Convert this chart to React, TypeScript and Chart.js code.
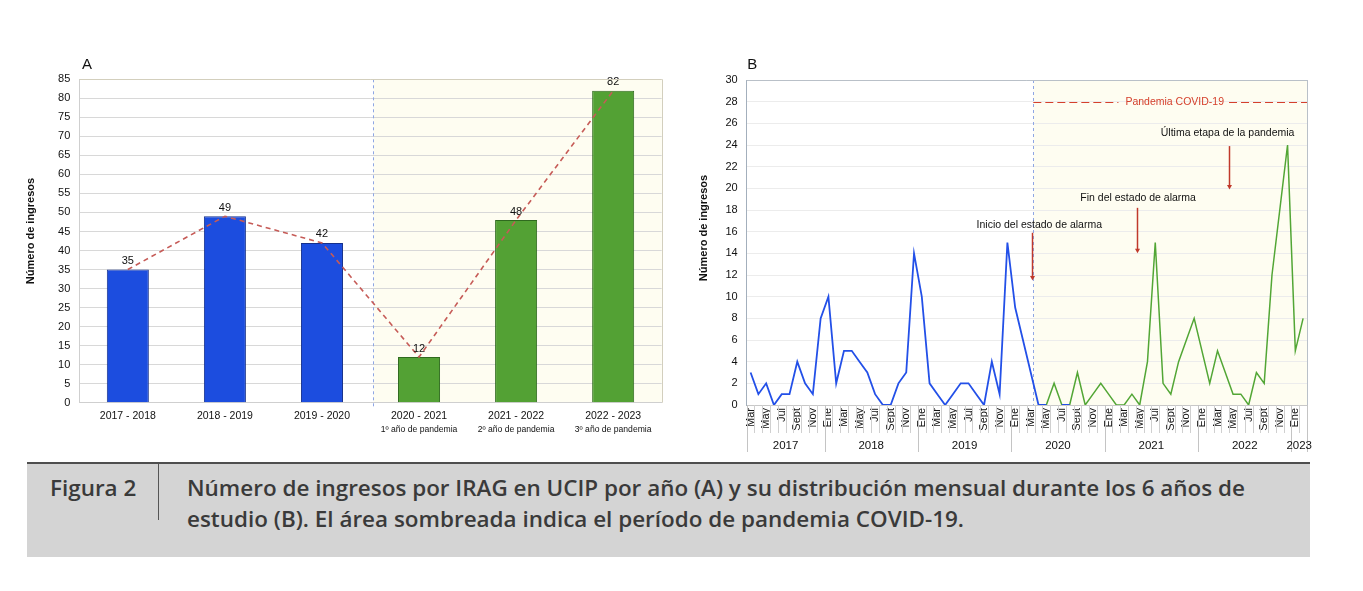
import React, { useEffect, useLayoutEffect, useRef } from 'react';
import { Chart, registerables } from 'chart.js';

Chart.register(...registerables);

const FONT = '"Liberation Sans", Arial, Helvetica, sans-serif';

// Panel A: admissions per season
const seasons = ['2017 - 2018', '2018 - 2019', '2019 - 2020', '2020 - 2021', '2021 - 2022', '2022 - 2023'];
const seasonNotes = ['', '', '', '1º año de pandemia', '2º año de pandemia', '3º año de pandemia'];
const seasonAdmissions = [35, 49, 42, 12, 48, 82];
const firstPandemicSeason = 3;

// Panel B: monthly admissions, March 2017 – February 2023
const years = ['2017', '2018', '2019', '2020', '2021', '2022', '2023'];
const yearFirstMonth = [2, 0, 0, 0, 0, 0, 0];
const yearMonthCount = [10, 12, 12, 12, 12, 12, 2];
const monthNames = ['Ene', 'Feb', 'Mar', 'Abr', 'May', 'Jun', 'Jul', 'Ago', 'Sept', 'Oct', 'Nov', 'Dic'];
const labelledMonths = ['Ene', 'Mar', 'May', 'Jul', 'Sept', 'Nov'];

const prePandemicMonthly: (number | null)[] = [
  // 2017 (Mar–Dic)
  3, 1, 2, 0, 1, 1, 4, 2, 1, 8,
  // 2018
  10, 2, 5, 5, 4, 3, 1, 0, 0, 2, 3, 14,
  // 2019
  10, 2, 1, 0, 1, 2, 2, 1, 0, 4, 1, 15,
  // 2020
  9, 6, 3, 0, 0, null, 0, 0, null, null, null, null,
  // 2021
  null, null, null, null, null, null, null, null, null, null, null, null,
  // 2022
  null, null, null, null, null, null, null, null, null, null, null, null,
  // 2023
  null, null,
];

const pandemicMonthly: (number | null)[] = [
  // 2017 (Mar–Dic)
  null, null, null, null, null, null, null, null, null, null,
  // 2018
  null, null, null, null, null, null, null, null, null, null, null, null,
  // 2019
  null, null, null, null, null, null, null, null, null, null, null, null,
  // 2020
  null, null, null, null, 0, 2, 0, 0, 3, 0, 1, 2,
  // 2021
  1, 0, 0, 1, 0, 4, 15, 2, 1, 4, 6, 8,
  // 2022
  5, 2, 5, 3, 1, 1, 0, 3, 2, 12, 18, 24,
  // 2023
  5, 8,
];

// Month axis positions (fractional month index) and heights for the event notes
const pandemicStartMonth = 36.33;
const pandemicBandLevel = 28;
const pandemicBandLabel = 'Pandemia COVID-19';
const pandemicBandLabelAt = 54.5;
const events = [
  { text: 'Inicio del estado de alarma', arrowAt: 36.2, textAt: 37.1, textLevel: 16.6, arrowFrom: 15.9, arrowTo: 11.5 },
  { text: 'Fin del estado de alarma', arrowAt: 49.6, textAt: 49.8, textLevel: 19.1, arrowFrom: 18.2, arrowTo: 14.0 },
  { text: 'Última etapa de la pandemia', arrowAt: 61.5, textAt: 61.3, textLevel: 25.1, arrowFrom: 23.9, arrowTo: 19.9 },
];

const monthLabels: string[] = [];
years.forEach((_, yi) => {
  for (let m = 0; m < yearMonthCount[yi]; m++) monthLabels.push(monthNames[yearFirstMonth[yi] + m]);
});

const BLUE = '#1c4ddf';
const BLUE_EDGE = '#15308c';
const GREEN = '#53a134';
const GREEN_EDGE = '#2f6a1e';
const CREAM = '#fefdf1';
const FRAME = '#d3cfbd';

function verticalTitle(ctx: CanvasRenderingContext2D, text: string, cx: number, cy: number) {
  ctx.save();
  ctx.translate(cx, cy);
  ctx.rotate(-Math.PI / 2);
  ctx.font = `bold 11px ${FONT}`;
  ctx.fillStyle = '#111';
  ctx.textAlign = 'center';
  ctx.textBaseline = 'middle';
  ctx.fillText(text, 0, 0);
  ctx.restore();
}

function panelLetter(ctx: CanvasRenderingContext2D, text: string, x: number, y: number) {
  ctx.save();
  ctx.font = `15px ${FONT}`;
  ctx.fillStyle = '#111';
  ctx.textAlign = 'left';
  ctx.textBaseline = 'middle';
  ctx.fillText(text, x, y);
  ctx.restore();
}

const panelAPlugin = {
  id: 'panelA',
  beforeDraw(chart: any) {
    const { ctx, chartArea, scales } = chart;
    const shadeX = scales.x.getPixelForValue(firstPandemicSeason - 0.47);
    ctx.save();
    ctx.fillStyle = CREAM;
    ctx.fillRect(shadeX, chartArea.top, chartArea.right - shadeX, chartArea.bottom - chartArea.top);
    ctx.restore();
    panelLetter(ctx, 'A', 82, 65);
    verticalTitle(ctx, 'Número de ingresos', 31, 231);
  },
  beforeDatasetsDraw(chart: any) {
    const { ctx, chartArea, scales } = chart;
    const shadeX = Math.round(scales.x.getPixelForValue(firstPandemicSeason - 0.47)) + 0.5;
    ctx.save();
    ctx.strokeStyle = '#8ea6e4';
    ctx.lineWidth = 1;
    ctx.setLineDash([3, 3]);
    ctx.beginPath();
    ctx.moveTo(shadeX, chartArea.top);
    ctx.lineTo(shadeX, chartArea.bottom + 4);
    ctx.stroke();
    ctx.restore();
  },
  afterDatasetsDraw(chart: any) {
    const { ctx, chartArea } = chart;
    const bars = chart.getDatasetMeta(1).data;
    ctx.save();
    ctx.fillStyle = '#111';
    ctx.textAlign = 'center';
    ctx.textBaseline = 'middle';
    ctx.font = `11px ${FONT}`;
    bars.forEach((bar: any, i: number) => {
      ctx.fillText(String(seasonAdmissions[i]), bar.x, bar.y - 8.5);
    });
    ctx.font = `8.6px ${FONT}`;
    bars.forEach((bar: any, i: number) => {
      if (seasonNotes[i]) ctx.fillText(seasonNotes[i], bar.x, chartArea.bottom + 26.8);
    });
    ctx.restore();
  },
  afterDraw(chart: any) {
    const { ctx, chartArea } = chart;
    ctx.save();
    ctx.strokeStyle = FRAME;
    ctx.lineWidth = 1;
    ctx.beginPath();
    ctx.moveTo(chartArea.left, Math.round(chartArea.top) + 0.5);
    ctx.lineTo(chartArea.right, Math.round(chartArea.top) + 0.5);
    ctx.moveTo(Math.round(chartArea.right) + 0.5, chartArea.top);
    ctx.lineTo(Math.round(chartArea.right) + 0.5, chartArea.bottom);
    ctx.stroke();
    ctx.restore();
  },
};

const panelBPlugin = {
  id: 'panelB',
  beforeDraw(chart: any) {
    const { ctx, chartArea, scales } = chart;
    const startX = scales.x.getPixelForValue(pandemicStartMonth);
    ctx.save();
    ctx.fillStyle = CREAM;
    ctx.fillRect(startX, chartArea.top, chartArea.right - startX, chartArea.bottom - chartArea.top);
    ctx.restore();
    panelLetter(ctx, 'B', chartArea.left + 0.5, 65);
    verticalTitle(ctx, 'Número de ingresos', 13.5, 228);
  },
  beforeDatasetsDraw(chart: any) {
    const { ctx, chartArea, scales } = chart;
    const startX = Math.round(scales.x.getPixelForValue(pandemicStartMonth)) + 0.5;
    ctx.save();
    ctx.strokeStyle = '#8ea6e4';
    ctx.lineWidth = 1;
    ctx.setLineDash([3, 3]);
    ctx.beginPath();
    ctx.moveTo(startX, chartArea.top);
    ctx.lineTo(startX, chartArea.bottom);
    ctx.stroke();
    ctx.restore();
  },
  afterDatasetsDraw(chart: any) {
    const { ctx, chartArea, scales } = chart;
    const { x, y } = scales;
    ctx.save();
    // Pandemic period band
    const bandY = Math.round(y.getPixelForValue(pandemicBandLevel)) + 0.5;
    const startX = x.getPixelForValue(pandemicStartMonth);
    const labelX = x.getPixelForValue(pandemicBandLabelAt);
    ctx.font = `10.5px ${FONT}`;
    const w = ctx.measureText(pandemicBandLabel).width;
    ctx.strokeStyle = '#d5402c';
    ctx.lineWidth = 1.2;
    ctx.setLineDash([8, 4]);
    ctx.beginPath();
    ctx.moveTo(startX, bandY);
    ctx.lineTo(labelX - w / 2 - 7, bandY);
    ctx.moveTo(labelX + w / 2 + 5, bandY);
    ctx.lineTo(chartArea.right, bandY);
    ctx.stroke();
    ctx.setLineDash([]);
    ctx.fillStyle = '#d5402c';
    ctx.textAlign = 'center';
    ctx.textBaseline = 'middle';
    ctx.fillText(pandemicBandLabel, labelX, bandY);

    // Event notes with arrows
    events.forEach((ev) => {
      ctx.fillStyle = '#111';
      ctx.fillText(ev.text, x.getPixelForValue(ev.textAt), y.getPixelForValue(ev.textLevel));
      const ax = Math.round(x.getPixelForValue(ev.arrowAt)) + 0.5;
      const y0 = y.getPixelForValue(ev.arrowFrom);
      const y1 = y.getPixelForValue(ev.arrowTo);
      ctx.strokeStyle = '#c0392b';
      ctx.lineWidth = 1.5;
      ctx.beginPath();
      ctx.moveTo(ax, y0);
      ctx.lineTo(ax, y1 - 3);
      ctx.stroke();
      ctx.fillStyle = '#c0392b';
      ctx.beginPath();
      ctx.moveTo(ax - 2.5, y1 - 4.5);
      ctx.lineTo(ax + 2.5, y1 - 4.5);
      ctx.lineTo(ax, y1);
      ctx.closePath();
      ctx.fill();
    });
    ctx.restore();
  },
  afterDraw(chart: any) {
    const { ctx, chartArea, scales } = chart;
    const { x } = scales;
    const bottom = chartArea.bottom;
    ctx.save();
    // Frame
    ctx.strokeStyle = '#b9c0c8';
    ctx.lineWidth = 1;
    ctx.beginPath();
    ctx.moveTo(chartArea.left, Math.round(chartArea.top) + 0.5);
    ctx.lineTo(chartArea.right, Math.round(chartArea.top) + 0.5);
    ctx.moveTo(Math.round(chartArea.right) + 0.5, chartArea.top);
    ctx.lineTo(Math.round(chartArea.right) + 0.5, bottom);
    ctx.stroke();

    // Month and year separators
    const yearStarts: number[] = [];
    let acc = 0;
    yearMonthCount.forEach((n) => {
      yearStarts.push(acc);
      acc += n;
    });
    for (let i = 0; i <= monthLabels.length; i++) {
      const isYear = i === monthLabels.length || yearStarts.includes(i);
      const px = Math.round(x.getPixelForValue(i - 0.5)) + 0.5;
      ctx.strokeStyle = isYear ? '#c4c4c4' : '#d0d0d0';
      ctx.beginPath();
      ctx.moveTo(px, bottom);
      ctx.lineTo(px, bottom + (isYear ? 47 : 28));
      ctx.stroke();
    }
    ctx.fillStyle = '#111';
    ctx.font = `11.5px ${FONT}`;
    ctx.textAlign = 'center';
    ctx.textBaseline = 'middle';
    years.forEach((yr, yi) => {
      const a = x.getPixelForValue(yearStarts[yi] - 0.5);
      const b = x.getPixelForValue(yearStarts[yi] + yearMonthCount[yi] - 0.5);
      ctx.fillText(yr, (a + b) / 2, bottom + 40.5);
    });
    ctx.restore();
  },
};

export default function App() {
  const aRef = useRef<HTMLCanvasElement>(null);
  const bRef = useRef<HTMLCanvasElement>(null);
  const lineRefs = useRef<(HTMLSpanElement | null)[]>([]);

  useEffect(() => {
    const chartA = new Chart(aRef.current as HTMLCanvasElement, {
      type: 'bar',
      data: {
        labels: seasons,
        datasets: [
          {
            type: 'line',
            data: seasonAdmissions,
            borderColor: '#c65b57',
            borderWidth: 1.6,
            borderDash: [5, 4],
            pointRadius: 0,
            fill: false,
            order: 0,
          } as any,
          {
            type: 'bar',
            data: seasonAdmissions,
            backgroundColor: seasons.map((_, i) => (i < firstPandemicSeason ? BLUE : GREEN)),
            borderColor: seasons.map((_, i) => (i < firstPandemicSeason ? BLUE_EDGE : GREEN_EDGE)),
            borderWidth: 1,
            barPercentage: 0.433,
            categoryPercentage: 1,
            order: 1,
          },
        ],
      },
      options: {
        animation: false,
        responsive: false,
        layout: { padding: { left: 0, right: 28.3, top: 79.3, bottom: 12.3 } },
        plugins: { legend: { display: false }, tooltip: { enabled: false } },
        scales: {
          x: {
            grid: { display: false, drawTicks: false },
            border: { color: '#cfcfcf' },
            ticks: { padding: 7, color: '#111', font: { family: FONT, size: 10.5 } },
            afterFit(s: any) {
              s.height = 40;
            },
          },
          y: {
            min: 0,
            max: 85,
            ticks: { stepSize: 5, padding: 9, color: '#111', font: { family: FONT, size: 11 } },
            grid: { color: '#d8d8d8', drawTicks: false },
            border: { color: '#cfcfcf' },
            afterFit(s: any) {
              s.width = 79.3;
            },
          },
        },
      },
      plugins: [panelAPlugin],
    });

    const chartB = new Chart(bRef.current as HTMLCanvasElement, {
      type: 'line',
      data: {
        labels: monthLabels,
        datasets: [
          {
            data: prePandemicMonthly,
            borderColor: '#2350e8',
            borderWidth: 1.8,
            pointRadius: 0,
            tension: 0,
            spanGaps: false,
          },
          {
            data: pandemicMonthly,
            borderColor: '#52a635',
            borderWidth: 1.5,
            pointRadius: 0,
            tension: 0,
            spanGaps: false,
          },
        ],
      },
      options: {
        animation: false,
        responsive: false,
        layout: { padding: { left: 0, right: 56, top: 80, bottom: 15 } },
        plugins: { legend: { display: false }, tooltip: { enabled: false } },
        scales: {
          x: {
            type: 'category',
            offset: true,
            grid: { display: false, drawTicks: false },
            border: { color: '#c8c8c8' },
            ticks: {
              autoSkip: false,
              minRotation: 90,
              maxRotation: 90,
              padding: 3,
              color: '#111',
              font: { family: FONT, size: 11 },
              callback(this: any, v: any) {
                const l = this.getLabelForValue(v);
                return labelledMonths.includes(l) ? l : '';
              },
            },
            afterFit(s: any) {
              s.height = 50;
            },
          },
          y: {
            min: 0,
            max: 30,
            ticks: { stepSize: 2, padding: 9, color: '#111', font: { family: FONT, size: 11 } },
            grid: { color: '#ececec', drawTicks: false },
            border: { color: '#a3afbc' },
            afterFit(s: any) {
              s.width = 56.7;
            },
          },
        },
      },
      plugins: [panelBPlugin],
    });

    return () => {
      chartA.destroy();
      chartB.destroy();
    };
  }, []);

  useLayoutEffect(() => {
    const spans = lineRefs.current.filter(Boolean) as HTMLSpanElement[];
    if (!spans.length) return;
    const w = spans[1].getBoundingClientRect().width;
    const k = 1058 / w;
    spans.forEach((s) => {
      s.style.transform = `scaleX(${k})`;
    });
  }, []);

  const capFont: React.CSSProperties = {
    position: 'absolute',
    fontFamily: '"Open Sans", "DejaVu Sans", sans-serif',
    fontWeight: 600,
    fontSize: 22,
    lineHeight: '31px',
    color: '#3a3a3a',
    whiteSpace: 'nowrap',
    transformOrigin: 'left center',
    display: 'inline-block',
  };

  return (
    <div style={{ position: 'absolute', left: 0, top: 0, width: 1363, height: 591, background: '#fff', overflow: 'hidden' }}>
      <canvas ref={aRef} width={690} height={455} style={{ position: 'absolute', left: 0, top: 0 }} />
      <canvas ref={bRef} width={673} height={470} style={{ position: 'absolute', left: 690, top: 0 }} />
      <div
        style={{
          position: 'absolute',
          left: 27,
          top: 462,
          width: 1283,
          height: 95,
          background: '#d4d4d4',
          borderTop: '2px solid #4e4e4e',
          boxSizing: 'border-box',
        }}
      />
      <div style={{ position: 'absolute', left: 158, top: 464, width: 1, height: 56, background: '#555' }} />
      <span ref={(el) => { lineRefs.current[0] = el; }} style={{ ...capFont, left: 50, top: 472 }}>
        Figura 2
      </span>
      <span ref={(el) => { lineRefs.current[1] = el; }} style={{ ...capFont, left: 187, top: 472 }}>
        Número de ingresos por IRAG en UCIP por año (A) y su distribución mensual durante los 6 años de
      </span>
      <span ref={(el) => { lineRefs.current[2] = el; }} style={{ ...capFont, left: 187, top: 503 }}>
        estudio (B). El área sombreada indica el período de pandemia COVID-19.
      </span>
    </div>
  );
}
